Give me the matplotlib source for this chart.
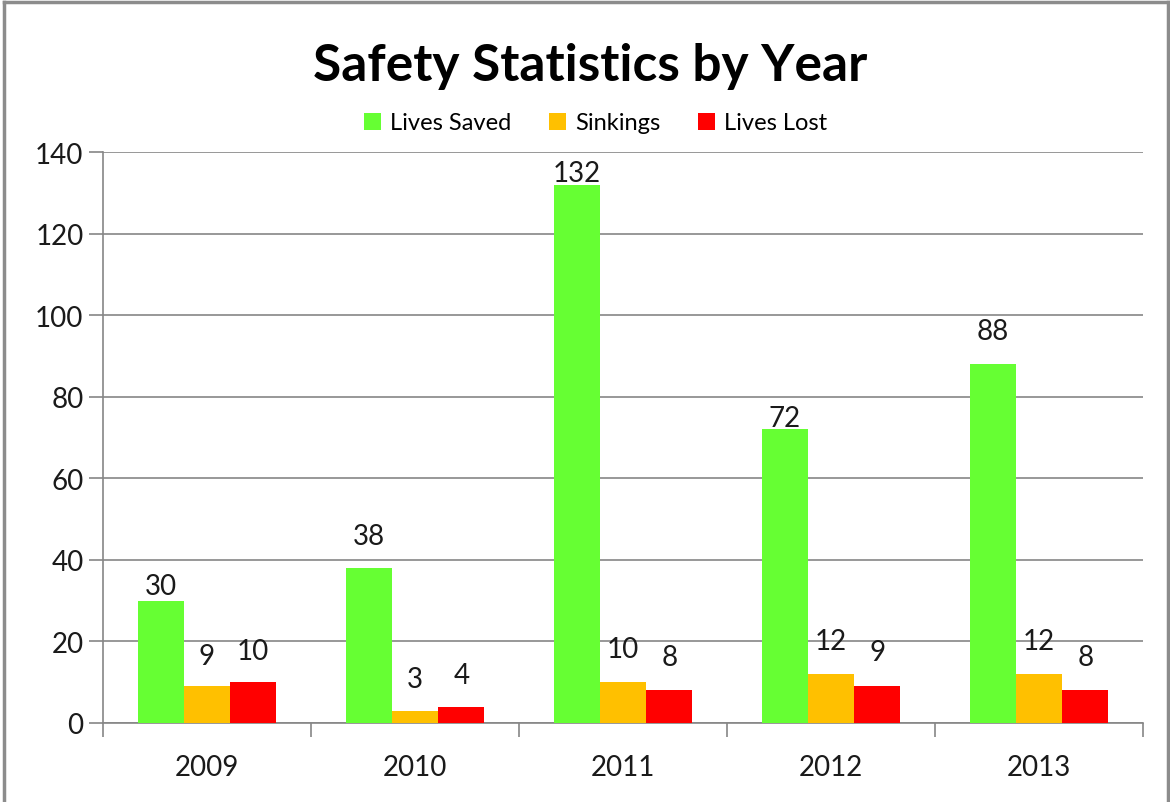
import numpy as np
import matplotlib.pyplot as plt
from matplotlib.lines import Line2D

years = ["2009", "2010", "2011", "2012", "2013"]
lives_saved = [30, 38, 132, 72, 88]
sinkings = [9, 3, 10, 12, 12]
lives_lost = [10, 4, 8, 9, 8]

series = [("Lives Saved", lives_saved, "#66FF33"),
          ("Sinkings", sinkings, "#FFC000"),
          ("Lives Lost", lives_lost, "#FF0000")]
# label lift above bar top, in pixels (Excel labels were nudged by hand)
label_lift = [[15, 32, 12, 11, 33],
              [30, 32, 33, 33, 33],
              [31, 32, 33, 34, 33]]

plt.rcParams['font.family'] = ['Lato', 'DejaVu Sans']
grey = "#868686"
txt = "#1a1a1a"

fig = plt.figure(figsize=(11.7, 8.03), dpi=100)
ax = fig.add_axes([103/1170, 79/803, 1040/1170, 571/803])

x = np.arange(len(years))
w = 0.2225
for i, (name, vals, col) in enumerate(series):
    bars = ax.bar(x + (i - 1) * w, vals, w, color=col, label=name, zorder=3)
    for b, v, lift in zip(bars, vals, label_lift[i]):
        ax.annotate(str(v), (b.get_x() + b.get_width() / 2, b.get_height()),
                    xytext=(0, lift), textcoords="offset pixels",
                    ha="center", va="center", fontsize=20, color=txt, zorder=4)

ax.set_xlim(-0.5, len(years) - 0.5)
ax.set_ylim(0, 140)
ax.set_yticks(range(0, 141, 20))
ax.set_xticks(x)
ax.set_xticklabels(years)
ax.set_xticks(np.arange(-0.5, len(years), 1), minor=True)
ax.tick_params(axis="x", which="major", length=0, pad=22, labelsize=20, labelcolor=txt)
ax.tick_params(axis="x", which="minor", length=10, width=1.2, color=grey)
ax.tick_params(axis="y", length=10, width=1.2, color=grey, labelsize=20, labelcolor=txt, pad=4)
ax.grid(axis="y", color=grey, linewidth=1.2, zorder=0)
for s in ["top", "right"]:
    ax.spines[s].set_visible(False)
for s in ["left", "bottom"]:
    ax.spines[s].set_color(grey)
    ax.spines[s].set_linewidth(1.2)

fig.text(590/1170, 1 - 67/803, "Safety Statistics by Year", ha="center", va="center",
         fontsize=37, fontweight="bold", color="black")
fig.legend(loc="center", bbox_to_anchor=(596/1170, 1 - 124/803), ncol=3, frameon=False,
           fontsize=17, handlelength=0.7, handleheight=0.7, handletextpad=0.4,
           columnspacing=1.6)

# chart frame
for xs, ys in [([4/1170, 4/1170], [0, 1 - 3/803]),
               ([4/1170, 1168/1170], [1 - 3/803, 1 - 3/803]),
               ([1168/1170, 1168/1170], [0, 1 - 3/803])]:
    fig.add_artist(Line2D(xs, ys, transform=fig.transFigure, color="#8c8c8c", lw=2.5))

fig.savefig("out.png", dpi=100)
